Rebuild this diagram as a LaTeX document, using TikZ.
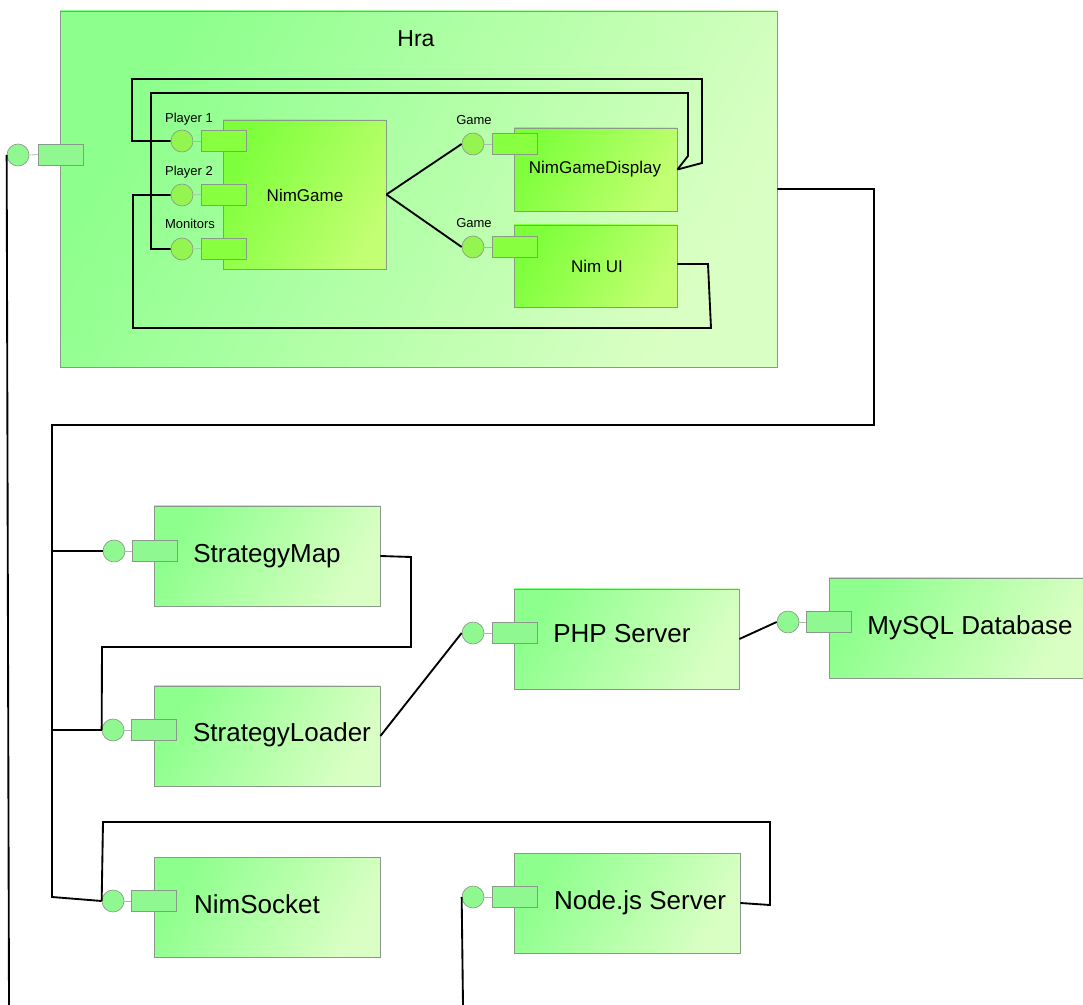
\documentclass[tikz,border=0pt]{standalone}
\usepackage{fontspec}
\setmainfont{Liberation Sans}
\usetikzlibrary{fit}
\definecolor{gA}{HTML}{8CFF8C}
\definecolor{gB}{HTML}{DAFFC4}
\definecolor{iA}{HTML}{7DFF3A}
\definecolor{iB}{HTML}{C2FF72}
\definecolor{pC}{HTML}{90F890}
\definecolor{pI}{HTML}{94F450}
\definecolor{pR}{HTML}{88FF3F}
\definecolor{bd}{HTML}{8A9A8A}
\tikzset{
  box/.style={draw=bd, line width=0.6pt, inner sep=0pt, left color=gA, right color=gB, shading angle=60},
  ibox/.style={draw=bd, line width=0.6pt, inner sep=0pt, left color=iA, right color=iB, shading angle=60},
  portc/.style={circle, draw=bd, line width=0.5pt, fill=pC, minimum size=16.5pt, inner sep=0pt},
  portr/.style={rectangle, draw=bd, line width=0.5pt, fill=pC, minimum width=33.75pt, minimum height=15.75pt, inner sep=0pt},
  iportc/.style={portc, fill=pI},
  iportr/.style={portr, fill=pR},
  plink/.style={draw=bd!70, line width=0.5pt},
  wire/.style={draw=black, line width=1.4pt, line join=miter},
  big/.style={font=\fontsize{19.5pt}{22pt}\selectfont, inner sep=0pt, anchor=base},
  mid/.style={font=\fontsize{12.75pt}{15pt}\selectfont, inner sep=0pt, anchor=base},
  small/.style={font=\fontsize{9.75pt}{12pt}\selectfont, inner sep=0pt, anchor=base},
}
\begin{document}
\begin{tikzpicture}[x=0.75pt,y=-0.75pt]
\useasboundingbox[fill=white] (0,0) rectangle (1083,1005);

% Hra container
\node[box, fit={(60,11)(777,367)}] (hra) {};
\node[font=\fontsize{17.25pt}{20pt}\selectfont, inner sep=0pt, anchor=base] (hraL) at (416,47) {Hra};

% inner components
\node[ibox, fit={(223,120)(386,269)}] (ng) {};
\node[mid] (ngL) at (305,202) {NimGame};
\node[ibox, fit={(514,128)(677,211)}] (ngd) {};
\node[mid] (ngdL) at (595,174) {NimGameDisplay};
\node[ibox, fit={(514,225)(677,307)}] (nui) {};
\node[mid] (nuiL) at (597,273) {Nim UI};

% lower components
\node[box, fit={(154,506)(380,606)}] (sm) {};
\node[big] (smL) at (267,563) {StrategyMap};
\node[box, fit={(154,686)(380,786)}] (sl) {};
\node[big] (slL) at (282,742) {StrategyLoader};
\node[box, fit={(514,589)(739,689)}] (php) {};
\node[big] (phpL) at (622,643) {PHP Server};
\node[box, fit={(829,578)(1083,678)}] (mys) {};
\node[big] (mysL) at (970,635) {MySQL Database};
\node[box, fit={(154,857)(380,957)}] (ns) {};
\node[big] (nsL) at (257,913) {NimSocket};
\node[box, fit={(514,853)(740,953)}] (nj) {};
\node[big] (njL) at (640,909) {Node.js Server};

% ports: external Hra
\node[portc] (c0) at (18,155) {};
\node[portr] (r0) at (60.5,154.5) {};
\draw[plink] (c0.east) -- (r0.west);

% inner ports
\node[iportr] (p1r) at (223.5,141) {};
\node[iportc] (p1c) at (182,141) {};
\draw[plink] (p1c.east) -- (p1r.west);
\node[small] (p1L) at (189,123) {Player 1};
\node[iportr] (p2r) at (223.5,194.5) {};
\node[iportc] (p2c) at (182,195) {};
\draw[plink] (p2c.east) -- (p2r.west);
\node[small] (p2L) at (189,176) {Player 2};
\node[iportr] (mr) at (223.5,248.5) {};
\node[iportc] (mc) at (182,249) {};
\draw[plink] (mc.east) -- (mr.west);
\node[small] (mL) at (190,229) {Monitors};

\node[iportr] (g1r) at (514.5,144) {};
\node[iportc] (g1c) at (473,144) {};
\draw[plink] (g1c.east) -- (g1r.west);
\node[small] (g1L) at (474,125) {Game};
\node[iportr] (g2r) at (514.5,247) {};
\node[iportc] (g2c) at (473,247) {};
\draw[plink] (g2c.east) -- (g2r.west);
\node[small] (g2L) at (474,228) {Game};

% lower ports
\node[portc] (smc) at (114,551) {};
\node[portr] (smr) at (154.5,551) {};
\draw[plink] (smc.east) -- (smr.west);
\node[portc] (slc) at (113,730) {};
\node[portr] (slr) at (153.5,730) {};
\draw[plink] (slc.east) -- (slr.west);
\node[portc] (phpc) at (473,633) {};
\node[portr] (phpr) at (514.5,633) {};
\draw[plink] (phpc.east) -- (phpr.west);
\node[portc] (mysc) at (788,622) {};
\node[portr] (mysr) at (829,622) {};
\draw[plink] (mysc.east) -- (mysr.west);
\node[portc] (nsc) at (113,901) {};
\node[portr] (nsr) at (154,901) {};
\draw[plink] (nsc.east) -- (nsr.west);
\node[portc] (njc) at (473,897) {};
\node[portr] (njr) at (514.5,897) {};
\draw[plink] (njc.east) -- (njr.west);

% free ends
\coordinate (endL) at (9,1005);
\coordinate (endN) at (463,1005);

% wires inside Hra
\draw[wire] (ng.east) -- (g1c.west);
\draw[wire] (ng.east) -- (g2c.west);
\draw[wire] (p1c.west) -- (132,141) -- (132,79) -- (702,79) -- (702,163) -- (ngd.east);
\draw[wire] (mc.west) -- (151,249) -- (151,93) -- (688,93) -- (688,156) -- (ngd.east);
\draw[wire] (p2c.west) -- (133,195) -- (133,328) -- (711,328) -- (708,264) -- ([yshift=1.5pt]nui.east);

% wires outside
\draw[wire] (c0.west) -- (endL);
\draw[wire] (hra.east) -- (874,189) -- (874,425) -- (52,425) -- (52,897) -- (nsc.west);
\draw[wire] (52,551) -- (smc.west);
\draw[wire] (52,730) -- (slc.west);
\draw[wire] (sm.east) -- (411,557) -- (411,647) -- (102,647) -- (slc.west);
\draw[wire] (sl.east) -- (phpc.west);
\draw[wire] (php.east) -- (mysc.west);
\draw[wire] (nsc.west) -- (103,822) -- (770,822) -- (770,905) -- (nj.east);
\draw[wire] (njc.west) -- (endN);
\end{tikzpicture}
\end{document}
